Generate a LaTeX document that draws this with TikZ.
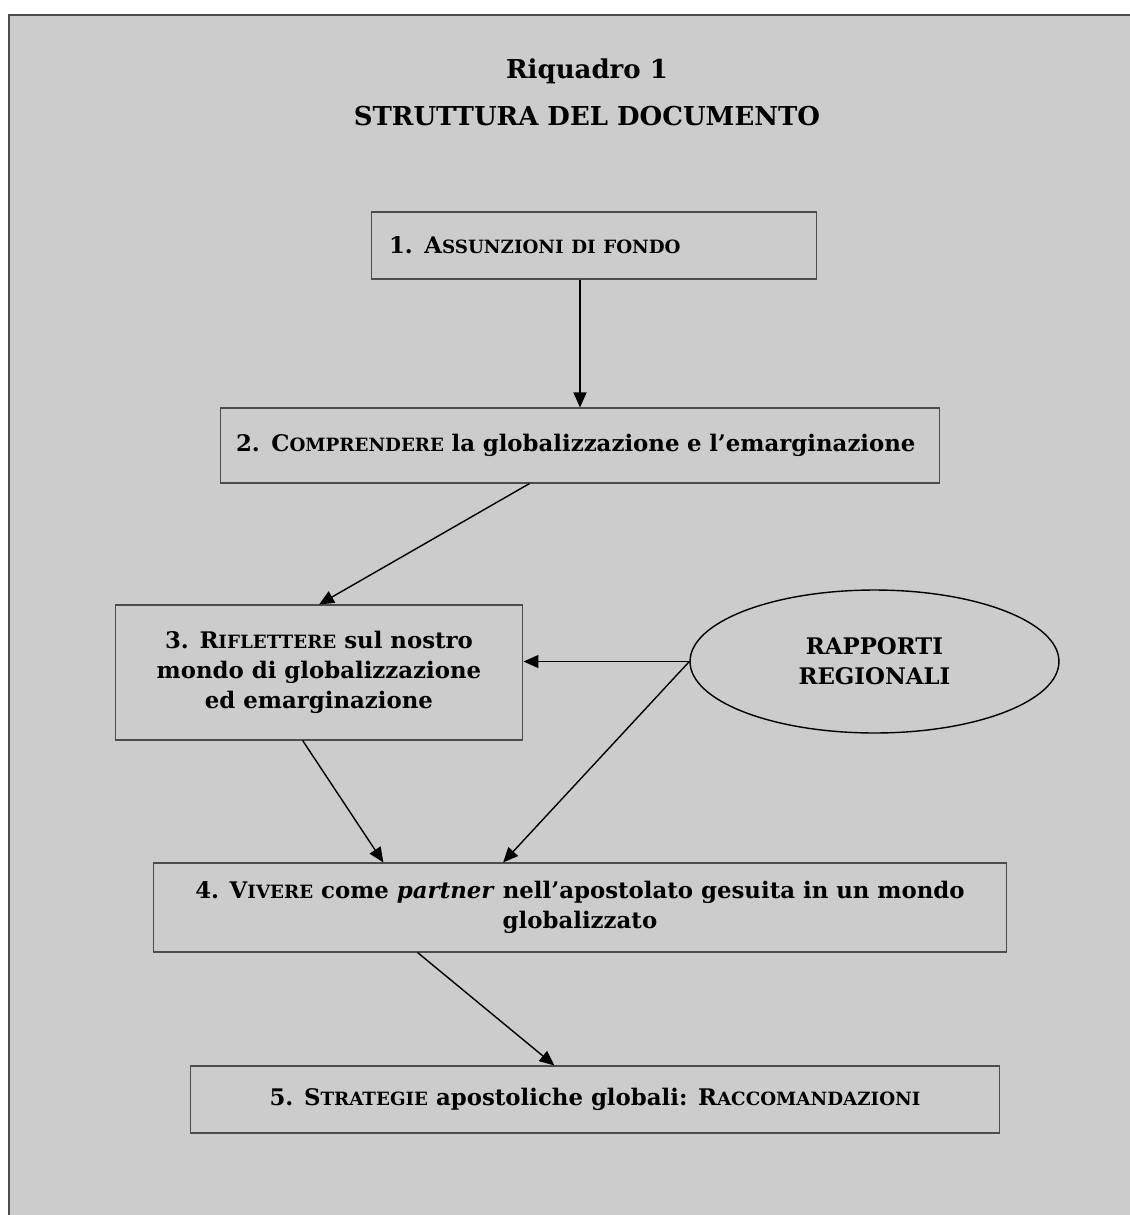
\documentclass[tikz,border=0pt]{standalone}
\usepackage{fontspec}
\setmainfont{DejaVu Serif}
\usetikzlibrary{arrows.meta,positioning,calc,shapes.geometric}

% small capitals by hand: first letter full size, the rest smaller
\newcommand{\fsc}[2]{#1{\fontsize{10.4}{17}\selectfont #2}}

\begin{document}
\begin{tikzpicture}[x=0.02cm,y=-0.02cm,>={Triangle[length=0.3cm,width=0.26cm]},
  every node/.style={font=\bfseries\fontsize{13}{17}\selectfont},
  box/.style={draw=black!70,line width=0.6pt,inner sep=0pt},
  link/.style={->,line width=0.8pt}]
  \useasboundingbox (0,0) rectangle (1130,1215);
  \fill[black!20] (9,15) rectangle (1130,1215);
  \draw[black!70,line width=0.8pt] (9,1215) -- (9,15) -- (1130,15);

  \node[anchor=base,font=\bfseries\fontsize{14.8}{20}\selectfont] (riq) at (587,78) {Riquadro 1};
  \node[anchor=base,font=\bfseries\fontsize{14.8}{20}\selectfont] (titolo) at (587,125) {STRUTTURA DEL DOCUMENTO};

  \node[box,minimum width=8.92cm,minimum height=1.34cm,text width=8.2cm,align=left] (b1) at (594,245.5)
    {1. \fsc{A}{SSUNZIONI DI FONDO}};
  \node[box,minimum width=14.4cm,minimum height=1.5cm,text width=13.76cm,align=left] (b2) at (580,445.5)
    {2. \fsc{C}{OMPRENDERE} la globalizzazione e l’emarginazione};
  \node[box,minimum width=8.16cm,minimum height=2.7cm,align=center] (b3) at (319,672.5)
    {3. \fsc{R}{IFLETTERE} sul nostro\\mondo di globalizzazione\\ed emarginazione};
  \node[ellipse,draw,line width=0.8pt,minimum width=7.38cm,minimum height=2.86cm,inner sep=0pt,align=center] (rr) at (874.5,661.5)
    {RAPPORTI\\REGIONALI};
  \node[box,minimum width=17.08cm,minimum height=1.78cm,align=center] (b4) at (580,907.5)
    {4. \fsc{V}{IVERE} come \textit{partner} nell’apostolato gesuita in un mondo\\globalizzato};
  \node[box,minimum width=16.2cm,minimum height=1.34cm,align=center] (b5) at (595,1099.5)
    {5. \fsc{S}{TRATEGIE} apostoliche globali: \fsc{R}{ACCOMANDAZIONI}};

  \draw[link] (b1.south -| b2.north) -- (b2.north);
  \draw[link] ($(b2.south west)!0.43!(b2.south east)$) -- (b3.north);
  \draw[link] (rr.west) -- (rr.west -| b3.east);
  \draw[link] ($(b3.south west)!0.46!(b3.south east)$) -- ($(b4.north west)!0.27!(b4.north east)$);
  \draw[link] (rr.west) -- ($(b4.north west)!0.41!(b4.north east)$);
  \draw[link] ($(b4.south west)!0.31!(b4.south east)$) -- ($(b5.north west)!0.45!(b5.north east)$);
\end{tikzpicture}
\end{document}
